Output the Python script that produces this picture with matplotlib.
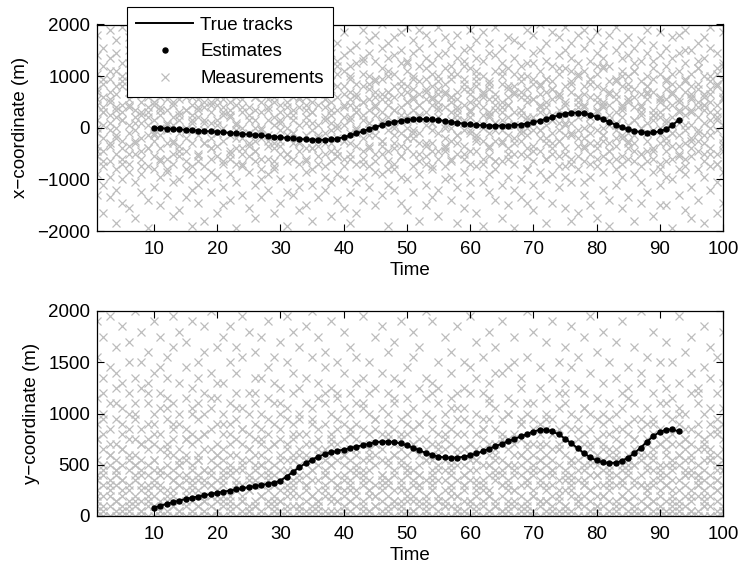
import matplotlib
matplotlib.use("Agg")
import matplotlib.pyplot as plt
import numpy as np

plt.rcParams['font.family'] = ['Liberation Sans', 'DejaVu Sans']
plt.rcParams['font.size'] = 13.5

# ---------------- data ----------------
TIME_START = 10
EST_X = [0, -8, -16, -24, -32, -40, -48, -56, -64, -72, -80, -90, -100, -110, -120, -130, -140, -150,
         -160, -172, -184, -196, -208, -218, -226, -232, -236, -234, -226, -210, -185, -150, -110, -70,
         -30, 10, 50, 85, 112, 132, 148, 160, 166, 166, 160, 148, 132, 114, 96, 80, 66, 55, 47, 42, 40,
         40, 43, 50, 62, 80, 104, 134, 168, 205, 242, 272, 290, 292, 278, 250, 210, 162, 110, 58, 10,
         -30, -62, -85, -96, -92, -70, -25, 50, 150]
EST_Y = [80, 100, 118, 135, 150, 165, 178, 190, 202, 214, 226, 237, 248, 259, 270, 281, 292, 302, 313,
         325, 345, 385, 430, 475, 515, 550, 580, 603, 620, 635, 648, 662, 676, 690, 705, 718, 725, 726,
         720, 708, 690, 666, 640, 615, 595, 580, 571, 568, 570, 578, 592, 610, 632, 656, 680, 704, 728,
         752, 776, 800, 824, 840, 842, 826, 796, 756, 710, 662, 614, 572, 542, 524, 516, 520, 538, 570,
         614, 668, 726, 780, 820, 842, 845, 825]
TRUE_X = EST_X
TRUE_Y = EST_Y

MEAS_UNIT = 50  # metres per unit in the measurement tables below
# one row per time step 1..100
MEAS_X = [
    [3, -7, 15, 28, -18, 9, -2, 36, -26, 11, -11, 21],
    [-4, 12, 31, -15, 6, -9, 24, -33, 1, 17, -22, 8],
    [10, -1, 19, -13, 38, 5, -27, 14, -6, 27, -19, 2],
    [-10, 7, 22, -3, 34, -24, 13, -16, 0, 29, -37, 4],
    [6, -12, 16, 39, -5, 25, -20, 9, -29, 3, 18, -8],
    [-2, 14, -17, 30, 8, -31, 20, -7, 11, 35, -14, 1],
    [13, -6, 26, -21, 4, 33, -10, 17, -35, 7, -1, 23],
    [-9, 5, 37, -25, 15, -4, 10, -18, 28, 2, -12, 19],
    [1, -15, 21, 8, -28, 32, -3, 12, -8, 24, -39, 6],
    [-5, 16, -11, 27, 3, -23, 9, 36, -16, 14, -2, 30],
    [8, -3, 18, -19, 40, -8, 12, -30, 5, 22, -13, 0],
    [-12, 2, 29, -6, 16, -26, 7, 33, -17, 11, -1, 25],
    [4, -10, 14, 35, -21, 1, 20, -14, 9, -34, 27, -5],
    [-7, 11, -2, 23, -32, 6, 38, -11, 15, -20, 3, 18],
    [12, -4, 31, -16, 0, 25, -9, 7, -27, 19, -13, 36],
    [-1, 9, -18, 20, 5, -38, 13, -6, 28, -24, 2, 15],
    [7, -13, 24, -3, 39, -10, 17, -22, 4, 11, -29, 32],
    [-6, 3, 16, -20, 26, 10, -15, 34, -1, 8, -36, 21],
    [2, -8, 35, -12, 13, -25, 6, 19, -4, 30, -17, 10],
    [-11, 15, 1, 28, -7, 21, -33, 9, -19, 3, 37, -2],
    [5, -5, 22, -23, 11, 33, -14, 0, 17, -30, 8, 26],
    [-3, 10, -9, 38, 4, -18, 24, -28, 13, -12, 19, 7],
    [9, -14, 27, -1, 15, -21, 2, 34, -8, 12, -39, 20],
    [-8, 6, 18, -26, 31, -4, 11, -15, 25, 0, -10, 36],
    [14, -2, 8, -17, 23, 40, -11, 5, -31, 16, -6, 29],
    [0, -9, 20, 12, -22, 35, -5, 27, -13, 7, -35, 3],
    [-4, 13, -16, 25, 6, -27, 17, -1, 32, -20, 10, 21],
    [11, -7, 3, 30, -12, 19, -24, 8, -3, 37, -18, 14],
    [-13, 4, 26, -8, 18, -33, 12, 1, 39, -15, 22, -6],
    [6, -1, 15, -20, 33, 9, -10, 24, -29, 2, -5, 17],
    [-10, 16, -3, 21, -25, 5, 36, -13, 10, -38, 28, 0],
    [3, -12, 23, -6, 12, -19, 30, -2, 18, -26, 7, 38],
    [-5, 8, -14, 34, 1, 15, -23, 26, -9, 11, -32, 20],
    [12, -3, 28, -17, 7, -8, 19, -30, 4, 35, -12, 14],
    [-8, 2, 10, -22, 24, -1, 31, -16, 16, -36, 6, 25],
    [1, -11, 17, 39, -7, 22, -14, 9, -27, 13, -4, 32],
    [-2, 14, -19, 8, 27, -10, 3, -24, 20, 36, -6, 11],
    [10, -6, 24, -13, 15, -34, 5, 29, -1, 18, -21, 2],
    [-9, 7, -4, 33, -18, 12, 21, -28, 0, 26, -11, 16],
    [4, -15, 13, 22, -5, 37, -20, 8, -12, 1, -31, 28],
    [-6, 11, -10, 19, 3, -25, 30, 14, -2, -37, 9, 24],
    [8, -2, 32, -14, 17, 6, -7, 25, -21, 12, -33, 0],
    [-12, 5, 16, -4, 27, -19, 10, 38, -9, 3, -28, 21],
    [2, -8, 20, 11, -23, 34, -3, 15, -15, 7, -1, 29],
    [-3, 12, -13, 26, 9, -30, 18, 0, 36, -17, 5, 14],
    [13, -5, 6, -18, 23, 40, -10, 2, -26, 19, -7, 31],
    [-1, 9, 27, -9, 14, -22, 4, 33, -13, 11, -38, 20],
    [7, -14, 12, 35, -6, 21, -16, 1, -3, 28, -24, 16],
    [-7, 3, 18, -11, 30, 8, -29, 13, 25, -2, -19, 37],
    [10, -4, 22, -20, 5, 16, -8, 39, -32, 14, 0, 26],
    [-4, 15, -1, 29, -15, 7, 20, -25, 11, -10, 34, 3],
    [5, -10, 31, 13, -2, 24, -18, 9, -36, 18, -6, 38],
    [-11, 1, 14, -7, 36, 19, -22, 6, 27, -14, 11, -30],
    [9, -6, 25, -16, 2, 33, -1, 16, -27, 12, -9, 21],
    [-2, 13, 4, 20, -24, 10, -12, 39, 7, -34, 28, 15],
    [14, -9, 17, -4, 29, -20, 8, 1, -15, 35, -8, 23],
    [0, 6, -13, 24, 12, -28, 19, -5, 32, -19, 3, 10],
    [-6, 11, 36, -10, 5, 21, -3, -23, 14, 27, -37, 8],
    [3, -12, 9, 30, -17, 15, 26, -7, -31, 2, 19, -1],
    [-9, 7, 23, -2, 13, -26, 38, 10, -14, 4, 31, -21],
    [11, -3, 18, -15, 34, 2, -9, 22, -33, 16, -5, 27],
    [-5, 14, 1, 26, -21, 8, -12, 37, 12, -38, 20, 5],
    [6, -7, 29, -11, 17, -18, 4, 11, -2, 33, -25, 15],
    [-13, 2, 13, -5, 22, 39, -16, 7, 28, -28, 9, -1],
    [8, -1, 20, -22, 10, -6, 31, -13, 3, 17, -35, 25],
    [-3, 12, -8, 35, 4, 23, -19, 15, -30, 1, 9, -12],
    [1, -10, 16, 27, -14, 6, -24, 34, 13, -4, 21, -39],
    [12, -5, 7, -20, 32, 18, -1, 24, -10, 5, -27, 14],
    [-8, 3, 25, -3, 15, -29, 10, 38, -16, 20, 0, -11],
    [4, -13, 11, 19, -7, 36, -22, 2, 29, -1, -32, 17],
    [-1, 9, -17, 30, 13, -9, 22, -26, 6, 40, -4, 16],
    [10, -4, 33, -12, 1, 19, -37, 14, -6, 26, 8, -20],
    [-6, 15, 3, 24, -18, 11, 37, -2, -29, 18, 5, -10],
    [7, -11, 21, -5, 28, -23, 13, 2, 35, -15, -1, 12],
    [-10, 5, 16, 39, -3, 9, -31, 23, -8, 1, 30, -19],
    [2, -2, 27, -14, 18, 6, -21, 33, -12, 14, -36, 22],
    [-4, 10, -7, 20, 12, -33, 25, -16, 4, 36, -1, 8],
    [13, -8, 5, -21, 31, 16, -4, 9, -26, 22, -13, 38],
    [-2, 4, 19, -10, 26, -19, 1, 34, -6, 12, -30, 17],
    [6, -12, 12, 29, -1, 21, -15, 7, -35, 37, -8, 24],
    [-11, 8, -3, 23, 15, -24, 32, 0, -17, 10, 27, -5],
    [3, -6, 36, -9, 9, 18, -28, 13, 24, -13, 1, -38],
    [-7, 13, 2, 30, -16, 6, 19, -4, 39, -22, 11, -1],
    [9, -3, 22, -19, 4, 27, -11, 16, -31, 8, 33, -14],
    [-5, 11, -12, 17, 35, -2, 10, -27, 20, 1, -8, 28],
    [12, -9, 8, 25, -6, -36, 15, 3, 31, -18, 22, -3],
    [0, 6, -15, 34, 13, -21, 5, -10, 26, 18, -29, 9],
    [-9, 16, 29, -5, 20, 2, -25, 38, -13, 11, -2, 14],
    [5, -1, 14, -17, 7, 32, -8, 23, -34, 3, -12, 19],
    [-3, 10, -6, 21, 37, -14, 12, 0, -22, 28, 6, -30],
    [8, -13, 24, 3, -9, 15, -30, 31, 11, -4, 18, -19],
    [-12, 4, 17, -2, 27, -20, 9, 35, -7, 13, -39, 1],
    [2, -7, 11, 36, -16, 22, -3, 6, 29, -26, 16, -10],
    [-6, 14, -1, 19, 5, -32, 25, -12, 38, 8, -18, 30],
    [11, -4, 30, -11, 16, 1, -23, 13, -5, 21, -35, 7],
    [-1, 8, -16, 26, 10, -28, 4, 33, -9, 17, -2, 23],
    [7, -10, 20, -6, 35, 12, -19, 2, 27, -13, 9, -37],
    [-8, 3, 13, 31, -3, 18, -24, 10, -15, 39, 0, 15],
    [4, -14, 9, 23, -10, 29, -1, 16, -33, 6, 21, -21],
    [-4, 12, -9, 37, 1, 14, -17, 25, -29, 11, -6, 19],
]
# further measurements, one triple per time step 1..100
MEAS_X_NEAR = [
    [0, 14, -9], [6, -13, 19], [-7, 11, 22], [16, -4, 8], [-14, 3, 20], [9, -10, 25], [-5, 18, 2], [13, -15, 6],
    [4, -8, 21], [17, -3, 10], [-12, 7, 24], [1, 15, -16], [10, -6, 18], [-9, 5, 23], [14, -1, 7], [-15, 12, 3],
    [8, -11, 20], [2, 16, -6], [-8, 9, 26], [11, -2, 15], [-13, 6, 19], [5, 22, -10], [-4, 13, 1], [18, -14, 8],
    [-7, 3, 24], [12, -9, 16], [0, 20, -12], [7, -5, 14], [-16, 10, 21], [3, 17, -7], [-10, 8, 25], [15, -2, 5],
    [-6, 12, 19], [9, -13, 2], [21, -8, 6], [-3, 14, 23], [11, -15, 4], [-9, 7, 18], [1, 24, -11], [16, -5, 9],
    [-12, 4, 20], [6, 13, -1], [-14, 10, 26], [2, -7, 17], [19, -10, 8], [-5, 11, 3], [14, -16, 22], [7, 0, -8],
    [-11, 16, 5], [10, -4, 25], [-2, 19, 12], [4, -13, 9], [23, -6, 15], [-15, 2, 11], [8, 18, -9], [-7, 13, 0],
    [12, -12, 21], [3, 7, -3], [-10, 17, 24], [15, -1, 6], [-4, 9, 20], [0, -14, 13], [18, 5, -8], [-13, 11, 2],
    [6, 22, -5], [9, -10, 16], [-6, 14, 1], [20, -2, 7], [-16, 4, 12], [11, 25, -9], [-1, 8, 17], [5, -12, 19],
    [-8, 15, 3], [13, -5, 23], [2, -15, 10], [17, 6, -3], [-11, 12, 21], [8, -7, 0], [-14, 19, 4], [10, 16, -6],
    [-3, 24, 9], [14, -9, 5], [-12, 1, 18], [7, 20, -4], [-6, 11, 15], [22, -13, 3], [0, 8, -10], [16, 13, -2],
    [-9, 5, 26], [4, -16, 11], [19, -6, 2], [-2, 14, 21], [10, -11, 7], [-15, 18, 1], [6, 12, -8], [-5, 23, 15],
    [13, -3, 9], [-10, 6, 20], [3, 17, -14], [11, -7, 24],
]
MEAS_Y = [
    [2, 8, 15, 0, 23, 5, 31, 11, 3, 18, 38, 7],
    [6, 13, 1, 27, 9, 20, 4, 35, 16, 0, 10, 24],
    [0, 4, 17, 10, 29, 7, 22, 2, 14, 39, 5, 12],
    [9, 3, 25, 14, 0, 33, 6, 19, 1, 11, 28, 8],
    [5, 16, 2, 21, 10, 37, 0, 13, 26, 7, 4, 18],
    [1, 11, 30, 6, 15, 3, 24, 9, 0, 34, 12, 20],
    [7, 0, 19, 12, 4, 27, 15, 2, 40, 8, 22, 10],
    [3, 14, 9, 36, 1, 17, 6, 25, 11, 0, 30, 5],
    [10, 2, 22, 5, 13, 0, 32, 8, 18, 4, 26, 15],
    [4, 18, 7, 0, 28, 11, 2, 20, 9, 38, 14, 6],
    [0, 9, 13, 24, 3, 16, 35, 6, 1, 21, 8, 29],
    [8, 1, 27, 10, 5, 19, 0, 14, 31, 3, 12, 23],
    [2, 12, 5, 17, 33, 0, 9, 22, 7, 15, 4, 39],
    [6, 0, 20, 3, 11, 26, 13, 1, 18, 8, 36, 10],
    [11, 4, 15, 29, 7, 2, 23, 0, 12, 34, 5, 17],
    [1, 7, 10, 21, 0, 14, 3, 38, 9, 25, 16, 6],
    [5, 15, 2, 12, 30, 8, 0, 19, 4, 27, 11, 22],
    [0, 3, 24, 9, 16, 1, 37, 6, 13, 20, 7, 32],
    [9, 13, 6, 0, 21, 11, 4, 28, 2, 17, 40, 8],
    [3, 10, 18, 5, 1, 33, 14, 7, 23, 0, 12, 26],
    [7, 2, 11, 26, 13, 0, 20, 4, 35, 9, 16, 6],
    [0, 16, 4, 8, 22, 3, 12, 30, 1, 18, 10, 37],
    [12, 5, 0, 19, 7, 28, 2, 15, 9, 24, 6, 33],
    [4, 9, 14, 1, 31, 6, 17, 0, 11, 21, 39, 3],
    [2, 20, 8, 11, 0, 24, 5, 13, 36, 7, 16, 1],
    [10, 0, 3, 27, 15, 6, 22, 9, 2, 32, 12, 18],
    [6, 12, 1, 17, 4, 35, 10, 0, 20, 14, 8, 27],
    [0, 7, 23, 2, 13, 9, 29, 5, 16, 3, 38, 11],
    [8, 3, 14, 10, 26, 1, 18, 6, 0, 22, 31, 4],
    [1, 15, 5, 0, 20, 12, 7, 34, 3, 17, 9, 25],
    [5, 0, 11, 21, 2, 8, 30, 14, 6, 39, 13, 19],
    [9, 4, 18, 6, 0, 24, 11, 2, 28, 15, 7, 36],
    [0, 13, 2, 25, 8, 16, 4, 19, 10, 1, 33, 12],
    [3, 8, 16, 0, 12, 37, 6, 22, 1, 27, 14, 5],
    [11, 1, 7, 19, 4, 14, 0, 31, 9, 21, 2, 40],
    [2, 10, 26, 5, 17, 0, 12, 7, 35, 3, 23, 15],
    [6, 0, 13, 9, 1, 29, 18, 4, 11, 24, 8, 32],
    [0, 14, 4, 20, 10, 3, 25, 16, 7, 38, 1, 12],
    [8, 5, 17, 1, 23, 11, 0, 14, 30, 6, 19, 3],
    [4, 12, 0, 28, 7, 15, 2, 21, 10, 36, 5, 18],
    [1, 9, 20, 6, 13, 0, 33, 3, 24, 11, 16, 7],
    [10, 2, 15, 0, 26, 8, 18, 5, 12, 31, 4, 22],
    [0, 6, 11, 22, 3, 17, 9, 39, 1, 14, 27, 8],
    [5, 16, 1, 9, 30, 4, 12, 0, 20, 7, 24, 13],
    [2, 0, 19, 12, 6, 25, 14, 2, 35, 10, 17, 4],
    [7, 11, 3, 16, 0, 21, 8, 28, 5, 13, 37, 1],
    [0, 4, 24, 7, 18, 10, 1, 15, 32, 6, 20, 11],
    [12, 8, 0, 14, 3, 27, 17, 5, 9, 22, 2, 34],
    [3, 15, 6, 0, 11, 19, 2, 38, 13, 7, 26, 16],
    [9, 1, 12, 23, 5, 0, 16, 10, 29, 3, 18, 8],
    [0, 7, 17, 4, 13, 31, 9, 1, 21, 14, 6, 36],
    [6, 12, 2, 10, 25, 5, 0, 18, 8, 33, 15, 3],
    [1, 3, 20, 15, 7, 11, 27, 0, 13, 4, 23, 40],
    [11, 0, 8, 26, 2, 17, 6, 14, 38, 9, 19, 5],
    [4, 9, 14, 0, 22, 1, 12, 30, 7, 16, 3, 25],
    [0, 13, 5, 18, 9, 35, 3, 11, 2, 20, 15, 7],
    [8, 2, 11, 6, 28, 14, 0, 23, 17, 4, 32, 10],
    [2, 16, 0, 21, 4, 10, 19, 7, 1, 37, 13, 24],
    [10, 5, 25, 1, 13, 0, 8, 16, 30, 6, 21, 3],
    [0, 11, 7, 14, 3, 29, 18, 2, 12, 24, 9, 39],
    [5, 1, 16, 9, 20, 6, 0, 34, 13, 4, 27, 11],
    [13, 7, 3, 0, 24, 15, 10, 2, 19, 31, 6, 17],
    [1, 10, 19, 4, 8, 0, 26, 12, 5, 22, 36, 14],
    [7, 0, 12, 17, 2, 21, 9, 14, 33, 3, 11, 28],
    [0, 4, 9, 28, 14, 6, 1, 19, 11, 38, 16, 8],
    [10, 15, 2, 6, 0, 23, 13, 7, 29, 1, 20, 5],
    [3, 8, 22, 12, 5, 16, 0, 30, 2, 14, 10, 35],
    [0, 12, 6, 19, 1, 10, 27, 4, 15, 25, 8, 18],
    [9, 2, 14, 0, 31, 7, 13, 20, 3, 11, 40, 6],
    [5, 17, 1, 10, 22, 0, 8, 14, 36, 4, 19, 12],
    [0, 6, 11, 25, 3, 18, 9, 2, 16, 29, 13, 7],
    [12, 3, 20, 8, 0, 14, 34, 5, 10, 1, 23, 17],
    [2, 9, 0, 16, 11, 27, 6, 19, 4, 38, 13, 8],
    [7, 14, 4, 1, 24, 10, 0, 13, 30, 3, 17, 21],
    [0, 5, 18, 12, 7, 2, 22, 9, 15, 33, 1, 26],
    [10, 1, 8, 29, 14, 5, 17, 0, 11, 20, 6, 37],
    [4, 11, 15, 3, 0, 19, 7, 25, 2, 13, 31, 9],
    [0, 7, 2, 21, 12, 9, 35, 4, 16, 6, 24, 14],
    [8, 13, 5, 0, 17, 3, 11, 28, 1, 20, 10, 39],
    [1, 4, 23, 10, 6, 15, 0, 19, 8, 32, 12, 2],
    [11, 0, 9, 14, 26, 2, 18, 6, 13, 4, 36, 16],
    [3, 16, 1, 7, 12, 30, 5, 0, 22, 10, 19, 8],
    [0, 8, 13, 3, 20, 11, 1, 15, 27, 6, 34, 12],
    [6, 2, 17, 24, 0, 9, 14, 4, 10, 38, 7, 21],
    [9, 12, 0, 5, 16, 1, 29, 11, 3, 18, 8, 25],
    [0, 4, 10, 19, 7, 13, 2, 33, 15, 0, 22, 6],
    [13, 6, 3, 11, 28, 0, 17, 8, 12, 1, 26, 40],
    [2, 10, 15, 0, 6, 21, 4, 14, 31, 9, 18, 5],
    [0, 7, 1, 13, 24, 3, 11, 19, 6, 36, 12, 16],
    [5, 14, 8, 2, 0, 17, 27, 10, 4, 22, 9, 30],
    [10, 0, 20, 6, 12, 3, 15, 1, 34, 8, 25, 13],
    [1, 9, 4, 16, 0, 23, 7, 30, 11, 2, 19, 14],
    [7, 3, 12, 0, 18, 10, 5, 26, 14, 39, 1, 21],
    [0, 15, 6, 9, 2, 20, 13, 4, 32, 11, 17, 8],
    [12, 1, 17, 5, 11, 0, 24, 8, 3, 28, 14, 35],
    [4, 8, 0, 22, 7, 13, 1, 18, 10, 25, 6, 16],
    [0, 11, 3, 14, 29, 5, 9, 2, 20, 15, 37, 7],
    [8, 2, 13, 0, 16, 21, 6, 11, 27, 4, 33, 12],
    [3, 10, 19, 7, 1, 12, 0, 24, 5, 17, 9, 31],
    [6, 0, 9, 15, 4, 26, 11, 2, 18, 36, 13, 1],
]
MEAS_Y_NEAR = [
    [4, 15, 1], [8, 19, 2], [0, 12, 6], [3, 22, 9], [13, 1, 7], [5, 17, 2], [10, 3, 20], [1, 8, 14],
    [6, 24, 3], [2, 11, 16], [9, 0, 5], [4, 13, 21], [7, 2, 18], [1, 10, 6], [15, 3, 8], [5, 20, 0],
    [11, 2, 7], [3, 16, 9], [0, 6, 23], [12, 4, 1], [8, 18, 3], [2, 9, 14], [6, 0, 21], [10, 3, 17],
    [1, 13, 5], [7, 24, 2], [4, 10, 15], [0, 8, 19], [14, 2, 6], [3, 11, 22], [9, 1, 4], [5, 16, 12],
    [2, 7, 20], [11, 0, 6], [4, 18, 9], [1, 13, 3], [8, 22, 5], [0, 10, 15], [6, 3, 24], [12, 1, 8],
    [3, 17, 5], [9, 0, 13], [2, 21, 7], [5, 11, 1], [14, 4, 19], [0, 8, 6], [7, 16, 2], [3, 12, 23],
    [10, 1, 5], [4, 20, 9], [1, 14, 3], [8, 6, 18], [0, 11, 2], [5, 24, 7], [13, 3, 10], [2, 16, 0],
    [9, 5, 21], [1, 12, 4], [6, 19, 8], [3, 0, 14], [11, 7, 2], [0, 17, 5], [4, 10, 23], [8, 2, 13],
    [1, 15, 6], [10, 3, 20], [5, 0, 9], [2, 12, 18], [7, 22, 1], [0, 9, 4], [14, 3, 11], [3, 19, 6],
    [9, 1, 16], [5, 13, 0], [2, 8, 24], [11, 4, 7], [0, 17, 3], [6, 10, 21], [1, 14, 5], [8, 2, 12],
    [4, 20, 0], [13, 6, 9], [2, 11, 17], [7, 0, 4], [3, 23, 10], [10, 1, 15], [0, 6, 19], [5, 12, 2],
    [9, 18, 3], [1, 7, 14], [6, 22, 0], [3, 10, 5], [12, 2, 20], [0, 15, 8], [4, 9, 1], [8, 24, 6],
    [2, 13, 4], [11, 0, 18], [5, 16, 7], [1, 9, 21],
]

X_TICKS = [10, 20, 30, 40, 50, 60, 70, 80, 90, 100]
YX_TICKS = [-2000, -1000, 0, 1000, 2000]
YY_TICKS = [0, 500, 1000, 1500, 2000]

# ---------------- plot ----------------
W, H = 742, 571
fig = plt.figure(figsize=(W / 100, H / 100), dpi=100)
ax1 = fig.add_axes([97 / W, 1 - 231 / H, 626 / W, 206.5 / H])
ax2 = fig.add_axes([97 / W, 1 - 516 / H, 626 / W, 205 / H])

GRAY = '#bdbdbd'


def draw(ax, meas_tables, est, true, ylim, yticks, ylabel):
    mt, mv = [], []
    for table in meas_tables:
        for i, row in enumerate(table):
            for v in row:
                mt.append(i + 1)
                mv.append(v * MEAS_UNIT)
    t_est = np.arange(TIME_START, TIME_START + len(est))
    hm, = ax.plot(mt, mv, linestyle='none', marker='x', color=GRAY,
                  markersize=6.3, markeredgewidth=0.9, zorder=1)
    ht, = ax.plot(t_est, true, '-', color='black', linewidth=1.4, zorder=2)
    he, = ax.plot(t_est, est, linestyle='none', marker='o', color='black',
                  markersize=3.6, zorder=3)
    ax.set_xlim(1, 100)
    ax.set_ylim(*ylim)
    ax.set_xticks(X_TICKS)
    ax.set_yticks(yticks)
    ax.tick_params(direction='in', top=True, right=True, length=5, width=0.8,
                   labelsize=13.5, pad=5)
    ax.tick_params(axis='x', pad=7)
    for s in ax.spines.values():
        s.set_linewidth(0.9)
    ax.set_xlabel('Time', fontsize=13.5, labelpad=3)
    ax.set_ylabel(ylabel, fontsize=13.5, labelpad=6)
    return ht, he, hm


ht, he, hm = draw(ax1, [MEAS_X, MEAS_X_NEAR], EST_X, TRUE_X, (-2000, 2000), YX_TICKS,
                  'x\u2212coordinate (m)')
draw(ax2, [MEAS_Y, MEAS_Y_NEAR], EST_Y, TRUE_Y, (0, 2000), YY_TICKS, 'y\u2212coordinate (m)')

leg = ax1.legend([ht, he, hm], ['True tracks', 'Estimates', 'Measurements'],
                 loc='upper left', bbox_to_anchor=(127 / W, 1 - 7 / H),
                 bbox_transform=fig.transFigure, borderaxespad=0,
                 fancybox=False, framealpha=1, edgecolor='black',
                 handlelength=3.0, handletextpad=0.4, labelspacing=0.52,
                 borderpad=0.5, fontsize=13.5)
leg.get_frame().set_linewidth(0.8)
leg.set_zorder(10)

fig.savefig('out.png', dpi=100)
